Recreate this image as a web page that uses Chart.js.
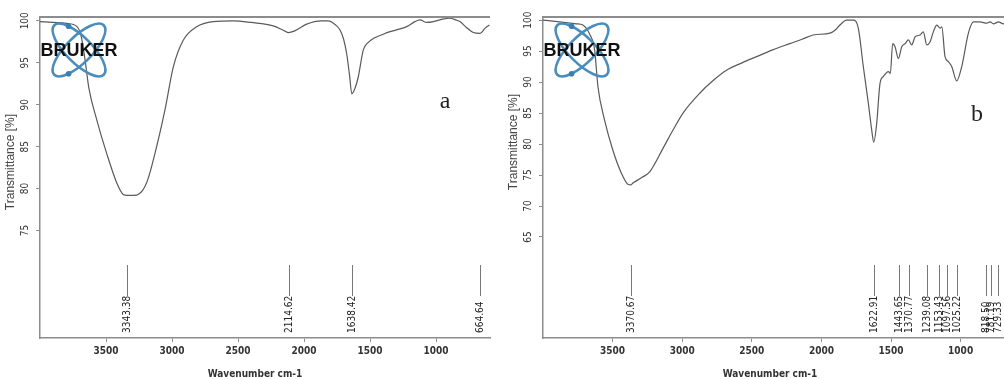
<!DOCTYPE html>
<html>
<head>
<meta charset="utf-8">
<script src="https://cdn.jsdelivr.net/npm/chart.js@4.4.0/dist/chart.umd.min.js"></script>
<style>
html, body { margin: 0; padding: 0; background: #fff; overflow: hidden; width: 1004px; height: 379px; }
body { position: relative; }
.panel { position: absolute; top: 0; }
#wrapA { left: 0; }
#wrapB { left: 503px; }
</style>
</head>
<body>
<div class="panel" id="wrapA"><canvas id="chartA" width="500" height="379"></canvas></div>
<div class="panel" id="wrapB"><canvas id="chartB" width="520" height="379"></canvas></div>
<script>
// spectrum a
const wnA = [4000, 3900, 3800, 3720, 3690, 3660, 3630, 3570, 3495, 3419, 3369, 3340, 3290, 3256, 3192, 3129, 3053, 2990, 2914, 2813, 2687, 2535, 2400, 2233, 2160, 2119, 2070, 1980, 1870, 1816, 1760, 1727, 1700, 1677, 1655, 1638, 1615, 1589, 1551, 1500, 1475, 1400, 1348, 1280, 1222, 1160, 1121, 1070, 1020, 950, 894, 850, 818, 770, 717, 667, 629, 596];
const trA = [99.9, 99.8, 99.7, 99.3, 98.3, 95.5, 92.0, 88.2, 84.2, 80.7, 79.3, 79.2, 79.2, 79.3, 80.7, 84.2, 89.4, 94.5, 97.7, 99.3, 99.9, 100.0, 99.8, 99.4, 98.9, 98.6, 98.8, 99.6, 100.0, 100.0, 99.5, 98.9, 97.8, 96.1, 93.5, 91.3, 91.9, 93.3, 96.5, 97.6, 97.9, 98.4, 98.7, 99.0, 99.3, 99.9, 100.1, 99.8, 99.9, 100.2, 100.3, 100.1, 99.9, 99.2, 98.6, 98.5, 99.1, 99.5];
const peaksA = ['3343.38', '2114.62', '1638.42', '664.64'];

// spectrum b
const wnB = [4000, 3881, 3760, 3714, 3660, 3629, 3605, 3558, 3498, 3437, 3390, 3370, 3354, 3290, 3234, 3138, 3060, 2994, 2874, 2780, 2682, 2570, 2466, 2350, 2227, 2140, 2059, 1939, 1900, 1867, 1819, 1771, 1735, 1699, 1663, 1640, 1624, 1603, 1579, 1555, 1519, 1505, 1488, 1471, 1447, 1423, 1399, 1375, 1351, 1327, 1291, 1268, 1243, 1219, 1196, 1171, 1147, 1135, 1112, 1088, 1064, 1028, 992, 944, 908, 860, 812, 788, 764, 728, 692, 650, 600];
const trB = [100.0, 99.7, 99.4, 99.2, 97.5, 95.2, 89.2, 83.9, 79.0, 75.3, 73.5, 73.4, 73.7, 74.6, 75.5, 79.3, 82.5, 85.0, 88.2, 90.2, 91.9, 93.1, 94.1, 95.2, 96.2, 96.9, 97.6, 97.9, 98.4, 99.2, 100.0, 100.0, 98.7, 92.5, 86.6, 82.5, 80.3, 83.3, 89.8, 90.9, 91.7, 91.4, 96.2, 95.7, 93.8, 95.7, 96.2, 96.8, 96.0, 97.3, 97.6, 98.1, 96.0, 96.5, 98.1, 99.2, 98.7, 98.9, 94.1, 93.3, 92.5, 90.2, 92.5, 97.9, 99.7, 99.7, 99.5, 99.7, 99.4, 99.7, 99.4, 99.6, 99.5];
const peaksB = ['3370.67', '1622.91', '1443.65', '1370.77', '1239.08', '1153.43', '1097.56', '1025.22', '818.50', '781.19', '729.33'];

// axis ticks
const xTicks = [3500, 3000, 2500, 2000, 1500, 1000];
const yTicksA = [75, 80, 85, 90, 95, 100];
const yTicksB = [65, 70, 75, 80, 85, 90, 95, 100];

const narrow = '"Liberation Sans Narrow", "DejaVu Sans Condensed", "Liberation Sans", sans-serif';

function drawLogo(ctx, cx, cy) {
    ctx.save();
    ctx.strokeStyle = '#4a8dbd';
    ctx.lineWidth = 2.6;
    [Math.PI / 4, -Math.PI / 4].forEach(r => {
        ctx.beginPath();
        ctx.ellipse(cx, cy, 35, 13, r, 0, Math.PI * 2);
        ctx.stroke();
    });
    ctx.fillStyle = '#3a7fb2';
    [[-10.4, -23.7], [-10.4, 23.7]].forEach(([dx, dy]) => {
        ctx.beginPath();
        ctx.arc(cx + dx, cy + dy, 2.8, 0, Math.PI * 2);
        ctx.fill();
    });
    ctx.fillStyle = '#111';
    ctx.font = 'bold 18px "Liberation Sans", Arial, sans-serif';
    ctx.textAlign = 'center';
    ctx.textBaseline = 'middle';
    ctx.fillText('BRUKER', cx, cy + 1);
    ctx.restore();
}

const extras = {
    id: 'extras',
    afterDraw(chart, args, opts) {
        const { ctx, chartArea: a, scales: { x, y } } = chart;
        ctx.save();

        // top frame line
        ctx.strokeStyle = '#8c8c8c';
        ctx.lineWidth = 2;
        ctx.beginPath();
        ctx.moveTo(a.left, a.top);
        ctx.lineTo(a.right, a.top);
        ctx.stroke();

        // y tick labels, rotated
        ctx.fillStyle = '#333';
        ctx.font = '10px ' + narrow;
        ctx.textAlign = 'center';
        ctx.textBaseline = 'middle';
        opts.yTicks.forEach(v => {
            const py = y.getPixelForValue(v);
            ctx.save();
            ctx.translate(a.left - 15, py);
            ctx.rotate(-Math.PI / 2);
            ctx.fillText(String(v), 0, 0);
            ctx.restore();
        });

        // y title
        ctx.save();
        ctx.font = '12px "Liberation Sans", Arial, sans-serif';
        ctx.fillStyle = '#444';
        ctx.translate(a.left - 29, opts.yTitleY);
        ctx.rotate(-Math.PI / 2);
        ctx.fillText('Transmittance [%]', 0, 0);
        ctx.restore();

        // x title
        ctx.font = 'bold 10px ' + narrow;
        ctx.fillStyle = '#333';
        ctx.fillText('Wavenumber cm-1', (a.left + a.right) / 2 - 10, a.bottom + 36);

        // peak markers
        ctx.strokeStyle = '#777';
        ctx.lineWidth = 1;
        ctx.font = '10px ' + narrow;
        ctx.fillStyle = '#222';
        opts.peaks.forEach(p => {
            const px = Math.round(x.getPixelForValue(parseFloat(p))) + 0.5;
            ctx.beginPath();
            ctx.moveTo(px, a.bottom - 73);
            ctx.lineTo(px, a.bottom - 42);
            ctx.stroke();
            ctx.save();
            ctx.translate(px, a.bottom - 5);
            ctx.rotate(-Math.PI / 2);
            ctx.textAlign = 'left';
            ctx.fillText(p, 0, 0);
            ctx.restore();
        });

        // panel letter
        ctx.font = '24px "Liberation Serif", "Times New Roman", serif';
        ctx.fillStyle = '#222';
        ctx.fillText(opts.letter, a.right - opts.letterDx, opts.letterY);

        drawLogo(ctx, a.left + 39, 50);
        ctx.restore();
    }
};

function makeChart(id, wn, tr, cfg) {
    new Chart(document.getElementById(id), {
        type: 'line',
        data: {
            datasets: [{
                data: wn.map((w, i) => ({ x: w, y: tr[i] })),
                borderColor: '#5a5a5a',
                borderWidth: 1.2,
                pointRadius: 0,
                tension: 0.4,
                cubicInterpolationMode: 'monotone',
                fill: false
            }]
        },
        options: {
            responsive: false,
            animation: false,
            layout: { padding: { top: 17, right: cfg.padRight, left: 0, bottom: 0 } },
            plugins: {
                legend: { display: false },
                tooltip: { enabled: false },
                extras: cfg
            },
            scales: {
                x: {
                    type: 'linear',
                    reverse: true,
                    min: cfg.xMin,
                    max: 4000,
                    afterBuildTicks: s => { s.ticks = xTicks.map(v => ({ value: v })); },
                    afterFit: s => { s.height = 41; },
                    ticks: {
                        font: { family: narrow, size: 10, weight: 'bold' },
                        color: '#333',
                        padding: 3,
                        maxRotation: 0,
                        autoSkip: false,
                        callback: v => String(v)
                    },
                    grid: { drawOnChartArea: false, tickLength: 4, color: '#8c8c8c' },
                    border: { color: '#8c8c8c', width: 1.5 }
                },
                y: {
                    min: cfg.yMin,
                    max: cfg.yMax,
                    afterBuildTicks: s => { s.ticks = cfg.yTicks.map(v => ({ value: v })); },
                    afterFit: s => { s.width = 40; },
                    ticks: { display: false },
                    grid: { drawOnChartArea: false, tickLength: 4, color: '#8c8c8c' },
                    border: { color: '#8c8c8c', width: 1.5 }
                }
            }
        },
        plugins: [extras]
    });
}

makeChart('chartA', wnA, trA, {
    xMin: 591, yMin: 62.2, yMax: 100.45, padRight: 10,
    yTicks: yTicksA, peaks: peaksA, yTitleY: 162,
    letter: 'a', letterDx: 45, letterY: 102
});
makeChart('chartB', wnB, trB, {
    xMin: 595, yMin: 48.7, yMax: 100.5, padRight: 6,
    yTicks: yTicksB, peaks: peaksB, yTitleY: 142,
    letter: 'b', letterDx: 40, letterY: 115
});
</script>
</body>
</html>
